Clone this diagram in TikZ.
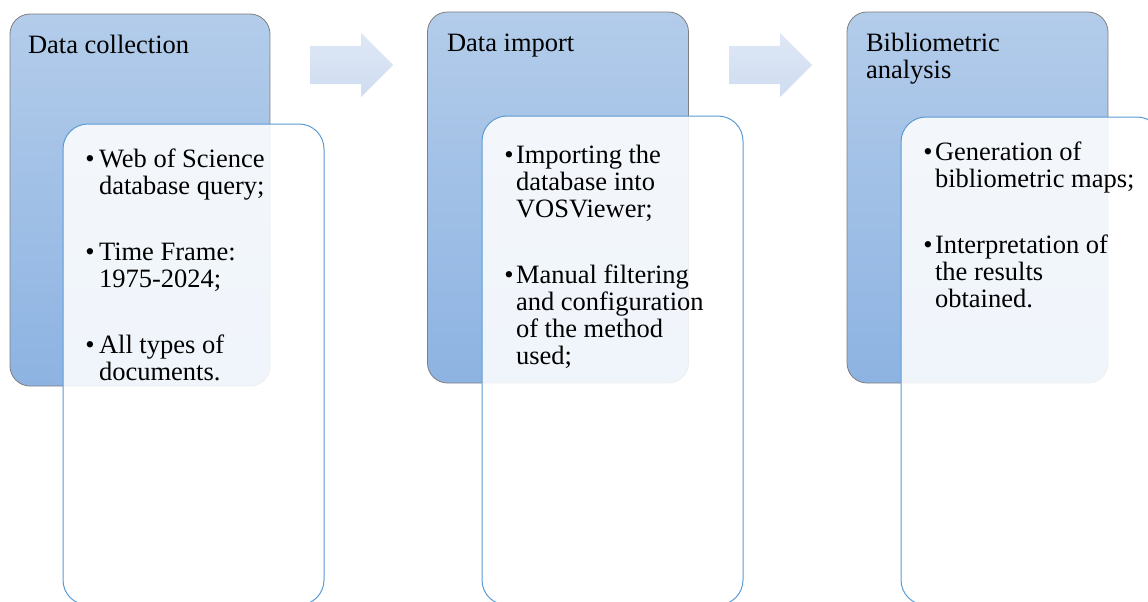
\documentclass[tikz,border=0pt]{standalone}
\usepackage{fontspec}
\setmainfont{Liberation Serif}

\definecolor{stagetop}{HTML}{B3CCEA}
\definecolor{stagebot}{HTML}{8DB3E2}
\definecolor{stageedge}{HTML}{7F7F7F}
\definecolor{cardedge}{HTML}{5B9BD5}
\definecolor{flowtop}{HTML}{DEE7F5}
\definecolor{flowbot}{HTML}{CFDDF1}

\begin{document}
\begin{tikzpicture}[x=1pt,y=-1pt,
  stage/.style={rectangle, rounded corners=20pt, draw=stageedge, line width=0.8pt,
    top color=stagetop, bottom color=stagebot,
    minimum width=261pt, minimum height=371pt, inner sep=0pt},
  card/.style={rectangle, rounded corners=25pt, draw=cardedge, line width=1pt,
    fill=white, fill opacity=0.87, minimum width=261pt, inner sep=0pt},
  flow/.style={top color=flowtop, bottom color=flowbot, draw=none},
  txt/.style={font=\fontsize{26.5}{27}\selectfont, anchor=base west, inner sep=0pt, outer sep=0pt},
  dot/.style={font=\fontsize{26.5}{27}\selectfont, anchor=base, inner sep=0pt, outer sep=0pt}]

\useasboundingbox (0,0) rectangle (1148,602);
\clip (0,0) rectangle (1148,602);

% block arrow drawn around a centre point: 83 long, shaft 38, head 64
\newcommand{\blockarrow}[1]{%
  \shade[flow] (#1) ++(-41.5,-19) -- ++(51,0) -- ++(0,-13) -- ++(32,32)
    -- ++(-32,32) -- ++(0,-13) -- ++(-51,0) -- cycle;}

% ---- stage 1: data collection ----
\node[stage, minimum width=260pt, minimum height=372pt] (s1) at (140,200) {};
\node[card, minimum height=481pt] (c1) at (193.5,364.5) {};
\node[txt] (h1) at (28,54) {Data collection};
\node[dot] (b1a) at (90,167) {\textbullet};
\node[txt] (t1a) at (99,167) {Web of Science};
\node[txt] (t1b) at (99,194) {database query;};
\node[dot] (b1b) at (90,260) {\textbullet};
\node[txt] (t1c) at (99,260) {Time Frame:};
\node[txt] (t1d) at (99,287) {1975-2024;};
\node[dot] (b1c) at (90,353) {\textbullet};
\node[txt] (t1e) at (99,353) {All types of};
\node[txt] (t1f) at (99,380) {documents.};

% ---- arrow 1 ----
\coordinate (f1) at (351.5,65);
\blockarrow{f1}

% ---- stage 2: data import ----
\node[stage] (s2) at (558,197.5) {};
\node[card, minimum height=489pt] (c2) at (612.5,360.5) {};
\node[txt] (h2) at (447,52) {Data import};
\node[dot] (b2a) at (509,163) {\textbullet};
\node[txt] (t2a) at (516,163) {Importing the};
\node[txt] (t2b) at (516,190) {database into};
\node[txt] (t2c) at (516,217) {VOSViewer;};
\node[dot] (b2b) at (509,283) {\textbullet};
\node[txt] (t2d) at (516,283) {Manual filtering};
\node[txt] (t2e) at (516,310) {and configuration};
\node[txt] (t2f) at (516,337) {of the method};
\node[txt] (t2g) at (516,364) {used;};

% ---- arrow 2 ----
\coordinate (f2) at (770.5,65);
\blockarrow{f2}

% ---- stage 3: bibliometric analysis ----
\node[stage] (s3) at (977.5,197.5) {};
\node[card, minimum height=488pt] (c3) at (1031.5,361) {};
\node[txt] (h3a) at (866,52) {Bibliometric};
\node[txt] (h3b) at (866,78) {analysis};
\node[dot] (b3a) at (928,160) {\textbullet};
\node[txt] (t3a) at (935,160) {Generation of};
\node[txt] (t3b) at (935,187) {bibliometric maps;};
\node[dot] (b3b) at (928,253) {\textbullet};
\node[txt] (t3c) at (935,253) {Interpretation of};
\node[txt] (t3d) at (935,280) {the results};
\node[txt] (t3e) at (935,307) {obtained.};

\end{tikzpicture}
\end{document}
